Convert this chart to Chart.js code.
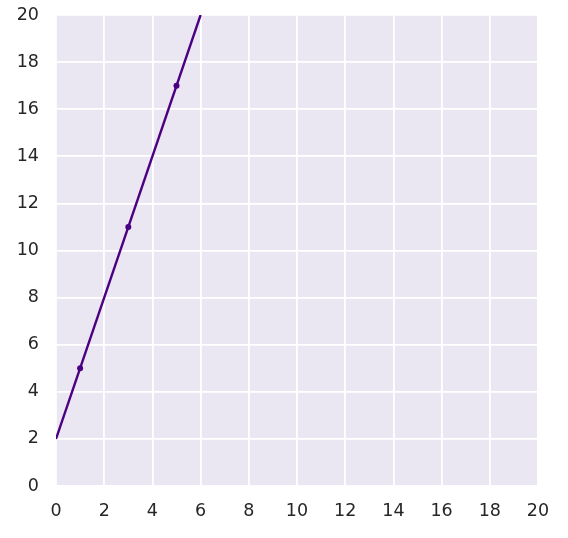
<!DOCTYPE html>
<html><head><meta charset="utf-8">
<script src="https://cdn.jsdelivr.net/npm/chart.js@4"></script>
<style>html,body{margin:0;padding:0;background:#fff;overflow:hidden;}canvas{display:block;}</style>
</head><body><canvas id="c" width="568" height="538" style="width:568px;height:538px"></canvas>
<script>
const lineX = [0, 6];
const lineY = [2, 20];
const pointX = [1, 3, 5];
const pointY = [5, 11, 17];
const xTicks = [0,2,4,6,8,10,12,14,16,18,20];
const yTicks = [0,2,4,6,8,10,12,14,16,18,20];

const bgPlugin = {
  id: 'bg',
  beforeDraw(chart) {
    const {ctx, chartArea: a} = chart;
    ctx.save();
    ctx.fillStyle = '#EAE6F2';
    ctx.fillRect(a.left, a.top, a.right - a.left, a.bottom - a.top);
    ctx.restore();
  }
};

new Chart(document.getElementById('c'), {
  type: 'scatter',
  data: {
    datasets: [
      {
        type: 'line',
        data: lineX.map((x, i) => ({x, y: lineY[i]})),
        borderColor: '#4B0082',
        borderWidth: 2.4,
        pointRadius: 0,
        fill: false
      },
      {
        data: pointX.map((x, i) => ({x, y: pointY[i]})),
        backgroundColor: '#4B0082',
        borderColor: '#4B0082',
        pointRadius: 3,
        borderWidth: 0
      }
    ]
  },
  options: {
    responsive: false,
    animation: false,
    devicePixelRatio: 1,
    layout: {padding: {top: 15, right: 30, left: 0, bottom: 0}},
    plugins: {legend: {display: false}, tooltip: {enabled: false}},
    scales: {
      x: {
        type: 'linear', min: 0, max: 20,
        afterBuildTicks(s) { s.ticks = xTicks.map(v => ({value: v})); },
        afterFit(s) { s.height = 52; s.paddingLeft = 0; s.paddingRight = 0; },
        border: {display: false},
        grid: {color: '#ffffff', lineWidth: 1.8, drawTicks: false},
        ticks: {padding: 15, color: '#262626', font: {family: 'DejaVu Sans', size: 17.5}, maxRotation: 0}
      },
      y: {
        type: 'linear', min: 0, max: 20,
        afterBuildTicks(s) { s.ticks = yTicks.map(v => ({value: v})); },
        afterFit(s) { s.width = 56; s.paddingTop = 0; s.paddingBottom = 0; },
        border: {display: false},
        grid: {color: '#ffffff', lineWidth: 1.8, drawTicks: false},
        ticks: {padding: 17, color: '#262626', font: {family: 'DejaVu Sans', size: 17.5}}
      }
    }
  },
  plugins: [bgPlugin]
});
</script></body></html>
